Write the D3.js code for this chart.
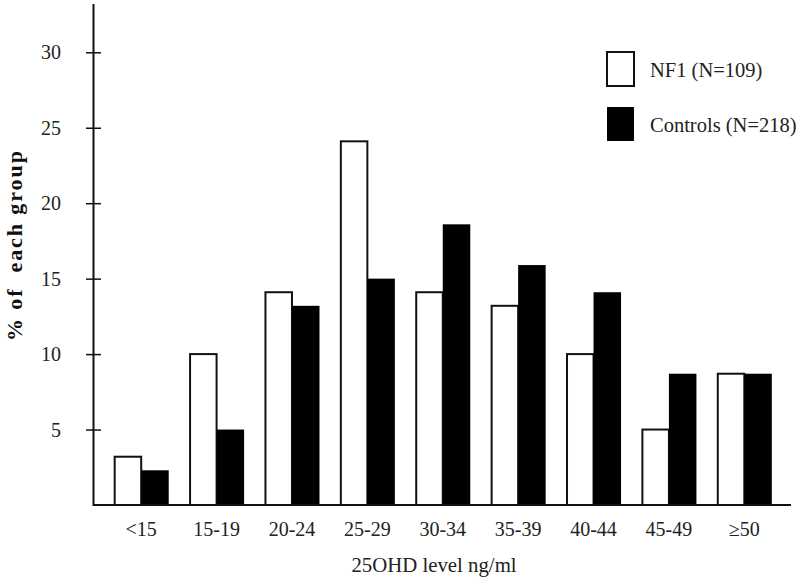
<!DOCTYPE html>
<html>
<head>
<meta charset="utf-8">
<script src="https://cdn.jsdelivr.net/npm/d3@7"></script>
<style>
  html, body { margin: 0; padding: 0; background: #fff; }
  svg { display: block; font-family: "Liberation Serif", "Times New Roman", serif; }
</style>
</head>
<body>
<svg id="chart" width="800" height="580"></svg>
<script>
const categories = ["<15", "15-19", "20-24", "25-29", "30-34", "35-39", "40-44", "45-49", "\u226550"];
const nf1Values = [3.2, 10.0, 14.1, 24.1, 14.1, 13.2, 10.0, 5.0, 8.7];
const controlValues = [2.3, 5.0, 13.2, 15.0, 18.6, 15.9, 14.1, 8.7, 8.7];
const seriesNames = ["NF1 (N=109)", "Controls (N=218)"];
const yTickValues = [5, 10, 15, 20, 25, 30];

const svg = d3.select("#chart");
const x0 = 93.5, baseY = 505;

const x = d3.scaleBand().domain(categories).range([103.5, 782]).paddingInner(0.27).paddingOuter(0.135);
const xs = d3.scaleBand().domain([0, 1]).range([0, x.bandwidth()]);
const y = d3.scaleLinear().domain([0, 33.2]).range([baseY, 4]);

const data = categories.map((c, i) => ({ c, vals: [nf1Values[i], controlValues[i]] }));

// bars
const g = svg.append("g");
data.forEach(d => {
  d.vals.forEach((v, k) => {
    g.append("rect")
      .attr("x", x(d.c) + xs(k) + (k === 0 ? 1 : 0))
      .attr("y", y(v))
      .attr("width", xs.bandwidth() - (k === 0 ? 1 : 0))
      .attr("height", baseY - y(v))
      .attr("fill", k === 0 ? "#fff" : "#000")
      .attr("stroke", k === 0 ? "#111" : "none")
      .attr("stroke-width", 2);
  });
});

// y axis
const yAxis = svg.append("g").attr("transform", `translate(${x0},0)`)
  .call(d3.axisLeft(y).tickValues(yTickValues).tickSizeInner(7.5).tickSizeOuter(0).tickPadding(25));
yAxis.select(".domain").remove();
yAxis.selectAll(".tick line").attr("x1", 7.5).attr("stroke", "#111").attr("stroke-width", 1.5);
yAxis.selectAll(".tick text")
  .attr("font-family", "Liberation Serif, serif").attr("font-size", 20).attr("fill", "#222")
  .attr("dy", "0.33em");
svg.append("line").attr("x1", x0).attr("x2", x0).attr("y1", y(33.2)).attr("y2", baseY + 1)
  .attr("stroke", "#111").attr("stroke-width", 2);

// x axis
const xAxis = svg.append("g").attr("transform", `translate(0,${baseY})`)
  .call(d3.axisBottom(x).tickSize(0).tickPadding(0));
xAxis.select(".domain").remove();
xAxis.selectAll(".tick text")
  .attr("font-family", "Liberation Serif, serif").attr("font-size", 20).attr("fill", "#222")
  .attr("y", 31).attr("dy", 0);
svg.append("line").attr("x1", x0).attr("x2", 791).attr("y1", baseY).attr("y2", baseY)
  .attr("stroke", "#111").attr("stroke-width", 2);

// axis titles
svg.append("text").attr("x", 434).attr("y", 572).attr("text-anchor", "middle")
  .attr("font-size", 20.8).attr("fill", "#222").text("25OHD level ng/ml");
svg.append("text")
  .attr("transform", "translate(22,246) rotate(-90)")
  .attr("text-anchor", "middle").attr("font-size", 22).attr("font-weight", "bold")
  .attr("fill", "#111").attr("textLength", 190).attr("lengthAdjust", "spacing")
  .style("white-space", "pre").text("% of  each group");

// legend
const legendY = [52, 107];
seriesNames.forEach((n, k) => {
  svg.append("rect").attr("x", 607).attr("y", legendY[k]).attr("width", 27).attr("height", 34)
    .attr("fill", k === 0 ? "#fff" : "#000").attr("stroke", k === 0 ? "#111" : "none").attr("stroke-width", 2);
  svg.append("text").attr("x", 650).attr("y", legendY[k] + 25).attr("font-size", 20.5)
    .attr("fill", "#222").text(n);
});
</script>
</body>
</html>
